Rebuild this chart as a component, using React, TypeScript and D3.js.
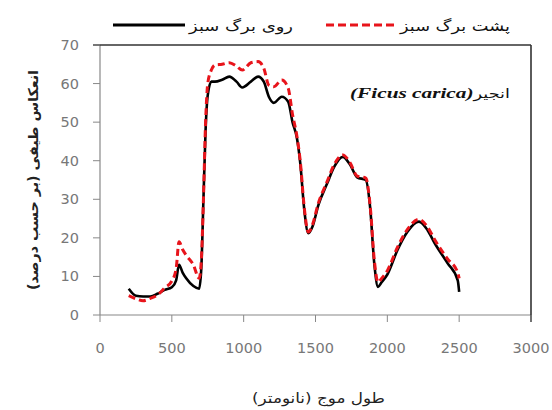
import React from 'react'
import * as d3 from 'd3'

// wavelength (nm)
const wavelengths = [
  200, 250, 300, 350, 400, 450, 500, 530, 550, 575, 600, 650, 690, 705, 720, 735,
  750, 775, 800, 850, 900, 950, 990, 1050, 1100, 1140, 1175, 1210, 1265, 1310,
  1340, 1370, 1395, 1420, 1450, 1480, 1520, 1580, 1630, 1690, 1740, 1790, 1850,
  1880, 1910, 1935, 1960, 2000, 2070, 2140, 2220, 2280, 2330, 2420, 2490, 2500
]

// روی برگ سبز (upper leaf side)
const topSide = [
  6.8, 5, 4.8, 4.8, 5.5, 6.5, 7.2, 9, 13, 11, 9.5, 7.5, 6.8, 12, 30, 48,
  57, 60.5, 60.5, 61, 61.8, 60.5, 59, 60.5, 61.8, 60.5, 56.6, 55, 56.6, 55.3,
  50, 46, 39, 28, 21.2, 23, 28.5, 34, 38.4, 41, 39, 35.7, 35,
  28, 13, 7.3, 8.5, 10.5, 16.8, 21.6, 24.2, 22, 18.6, 13.4, 9, 6
]

// پشت برگ سبز (lower leaf side)
const backSide = [
  5, 4.2, 3.7, 4.3, 5.2, 7, 8.8, 12, 19, 17, 15.5, 13, 9.5, 14, 30, 50,
  60, 63.5, 64.8, 65, 65.4, 64.5, 63.5, 65.4, 65.7, 64, 59.6, 59.2, 60.9, 58.8,
  52, 46.5, 39.5, 28.5, 21.5, 23.5, 29, 34.5, 39, 41.5, 39.5, 36, 35.5,
  28.5, 14, 8.5, 9.5, 11.5, 17.5, 22.2, 24.8, 22.8, 19.5, 14.5, 11, 9.5
]

const xTicks = [0, 500, 1000, 1500, 2000, 2500, 3000]
const yTicks = [0, 10, 20, 30, 40, 50, 60, 70]

const legendTop = 'روی برگ سبز'
const legendBack = 'پشت برگ سبز'
const yTitle = 'انعکاس طیفی (بر حسب درصد)'
const xTitle = 'طول موج (نانومتر)'

const W = 552
const H = 410
const margin = {top: 45, right: 21, bottom: 95, left: 100}

export default function App() {
  const x = d3.scaleLinear().domain([0, 3000]).range([margin.left, W - margin.right])
  const y = d3.scaleLinear().domain([0, 70]).range([H - margin.bottom, margin.top])

  const line = d3
    .line<number>()
    .curve(d3.curveMonotoneX)
    .x((d, i) => x(wavelengths[i]))
    .y(d => y(d))

  const persian = '"DejaVu Sans", sans-serif'
  const x0 = x(0)
  const x1 = x(3000)
  const y0 = y(0)
  const y1 = y(70)

  return (
    <svg
      width={W}
      height={H}
      style={{position: 'absolute', left: 0, top: 0, background: '#fff'}}
    >
      {/* legend */}
      <line x1={113} x2={185} y1={25} y2={25} stroke="#000" strokeWidth={3} />
      <text
        x={189}
        y={31}
        fontFamily={persian}
        fontSize={14}
        fill="#111"
        textLength={104}
        lengthAdjust="spacingAndGlyphs"
      >
        {legendTop}
      </text>
      <line
        x1={326}
        x2={397}
        y1={25}
        y2={25}
        stroke="#e8141b"
        strokeWidth={3}
        strokeDasharray="8,4"
      />
      <text
        x={400}
        y={31}
        fontFamily={persian}
        fontSize={14}
        fill="#111"
        textLength={110}
        lengthAdjust="spacingAndGlyphs"
      >
        {legendBack}
      </text>

      {/* frame */}
      <line x1={x0} x2={x0} y1={y1} y2={y0} stroke="#888" strokeWidth={1.2} />
      <line x1={x0} x2={x1} y1={y0} y2={y0} stroke="#888" strokeWidth={1.2} />
      <line x1={x0 - 7} x2={x1} y1={y1} y2={y1} stroke="#333" strokeWidth={1.6} />
      <line x1={x1} x2={x1} y1={y1} y2={y0 + 7} stroke="#333" strokeWidth={1.6} />

      {yTicks.map(t => (
        <g key={'y' + t}>
          <line x1={x0 - 7} x2={x0} y1={y(t)} y2={y(t)} stroke="#888" />
          <text
            x={79}
            y={y(t) + 5}
            textAnchor="end"
            fontFamily={persian}
            fontSize={14.5}
            fill="#777"
          >
            {t}
          </text>
        </g>
      ))}
      {xTicks.map(t => (
        <g key={'x' + t}>
          <line x1={x(t)} x2={x(t)} y1={y0} y2={y0 + 7} stroke="#888" />
          <text
            x={x(t)}
            y={353}
            textAnchor="middle"
            fontFamily={persian}
            fontSize={14.5}
            fill="#777"
          >
            {t}
          </text>
        </g>
      ))}

      {/* axis titles */}
      <text
        transform={`translate(38,${(y0 + y1) / 2}) rotate(-90)`}
        x={-110}
        fontFamily={persian}
        fontSize={13.5}
        fontWeight="bold"
        fill="#222"
        textLength={220}
        lengthAdjust="spacingAndGlyphs"
      >
        {yTitle}
      </text>
      <text
        x={252}
        y={403}
        fontFamily={persian}
        fontSize={14}
        fill="#222"
        textLength={133}
        lengthAdjust="spacingAndGlyphs"
      >
        {xTitle}
      </text>

      {/* annotation */}
      <g transform="translate(510,98) scale(1.42,1)">
        <text x={0} y={0} textAnchor="end" fill="#111">
          <tspan
            fontFamily='"Liberation Serif", serif'
            fontStyle="italic"
            fontWeight="bold"
            fontSize={15}
          >
            (Ficus carica)
          </tspan>
          <tspan fontFamily={persian} fontSize={12.5}>انجیر</tspan>
        </text>
      </g>

      {/* series */}
      <path d={line(topSide) || ''} fill="none" stroke="#000" strokeWidth={2.6} />
      <path
        d={line(backSide) || ''}
        fill="none"
        stroke="#e8141b"
        strokeWidth={3}
        strokeDasharray="7,4"
      />
    </svg>
  )
}
